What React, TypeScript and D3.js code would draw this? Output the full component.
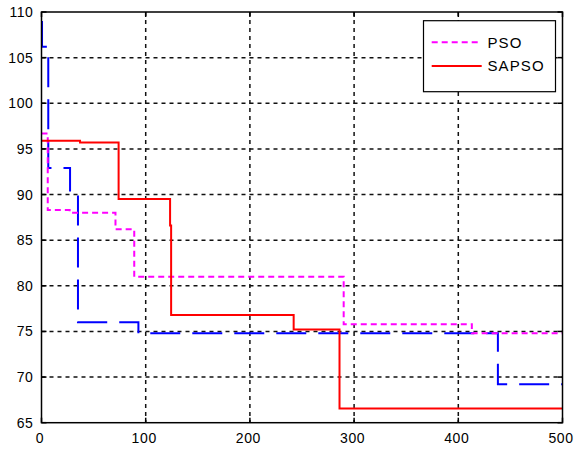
import React from "react";
import * as d3 from "d3";

const xTicks = [0, 100, 200, 300, 400, 500];
const yTicks = [65, 70, 75, 80, 85, 90, 95, 100, 105, 110];

const blueX = [0, 0.5, 6.5, 27.4, 35, 93, 438, 500];
const blueY = [108.9, 106.2, 92.9, 90, 76, 74.8, 69.2, 69.2];

const psoX = [0, 6, 27, 71, 89, 290, 413, 500];
const psoY = [96.7, 88.3, 88.0, 86.2, 81.0, 75.8, 74.8, 74.8];

const sapsoX = [0, 37, 74, 123.4, 124.4, 242, 286, 500];
const sapsoY = [95.9, 95.7, 89.5, 86.6, 76.8, 75.2, 66.55, 66.55];

const W = 575;
const H = 449;
const L = 41.5, R = 562.5, T = 12, B = 422.7;

export default function App() {
  const x = d3.scaleLinear().domain([0, 500]).range([L, R]);
  const y = d3.scaleLinear().domain([65, 110]).range([B, T]);
  const line = d3
    .line<[number, number]>()
    .x((d) => x(d[0]))
    .y((d) => y(d[1]))
    .curve(d3.curveStepAfter);
  const zip = (a: number[], b: number[]) => a.map((v, i) => [v, b[i]] as [number, number]);
  const font = "'Liberation Sans', Arial, sans-serif";
  const tickLen = 5;
  return (
    <svg
      width={W}
      height={H}
      style={{ position: "absolute", left: 0, top: 0, background: "#fff" }}
    >
      <rect x={0} y={0} width={W} height={H} fill="#fff" />
      <rect x={L} y={T} width={R - L} height={B - T} fill="#fff" />
      {/* grid */}
      {xTicks.slice(1, -1).map((t) => (
        <line key={"gx" + t} x1={x(t)} x2={x(t)} y1={T} y2={B} stroke="#111" strokeWidth={1.5} strokeDasharray="4 4" />
      ))}
      {yTicks.slice(1, -1).map((t) => (
        <line key={"gy" + t} x1={L} x2={R} y1={y(t)} y2={y(t)} stroke="#111" strokeWidth={1.5} strokeDasharray="4 4" />
      ))}
      {/* series */}
      <path d={line(zip(blueX, blueY)) || ""} fill="none" stroke="#0000ff" strokeWidth={2} strokeDasharray="30 12" />
      <path d={line(zip(psoX, psoY)) || ""} fill="none" stroke="#ff00ff" strokeWidth={2} strokeDasharray="6 4" />
      <path d={line(zip(sapsoX, sapsoY)) || ""} fill="none" stroke="#ff0000" strokeWidth={2} />
      {/* axes box */}
      <rect x={L} y={T} width={R - L} height={B - T} fill="none" stroke="#000" strokeWidth={1.5} />
      {xTicks.map((t) => (
        <g key={"tx" + t}>
          <line x1={x(t)} x2={x(t)} y1={B} y2={B - tickLen} stroke="#000" strokeWidth={1.5} />
          <line x1={x(t)} x2={x(t)} y1={T} y2={T + tickLen} stroke="#000" strokeWidth={1.5} />
          <text x={x(t) - 1.5} y={443} textAnchor="middle" fontFamily={font} fontSize={14} letterSpacing={0.6} fill="#000">
            {t}
          </text>
        </g>
      ))}
      {yTicks.map((t) => (
        <g key={"ty" + t}>
          <line x1={L} x2={L + tickLen} y1={y(t)} y2={y(t)} stroke="#000" strokeWidth={1.5} />
          <line x1={R} x2={R - tickLen} y1={y(t)} y2={y(t)} stroke="#000" strokeWidth={1.5} />
          <text x={33.5} y={y(t)} dy="0.36em" textAnchor="end" fontFamily={font} fontSize={14} letterSpacing={0.6} fill="#000">
            {t}
          </text>
        </g>
      ))}
      {/* legend */}
      <rect x={423.5} y={20.7} width={132} height={71} fill="#fff" stroke="#000" strokeWidth={1.2} />
      <line x1={431.7} x2={481.7} y1={42.3} y2={42.3} stroke="#ff00ff" strokeWidth={2} strokeDasharray="6 4" />
      <text x={487.5} y={42.3} dy="0.36em" fontFamily={font} fontSize={15} letterSpacing={1.1} fill="#000">PSO</text>
      <line x1={431.7} x2={481.7} y1={66} y2={66} stroke="#ff0000" strokeWidth={2} />
      <text x={487.5} y={66} dy="0.36em" fontFamily={font} fontSize={15} letterSpacing={1.1} fill="#000">SAPSO</text>
    </svg>
  );
}
